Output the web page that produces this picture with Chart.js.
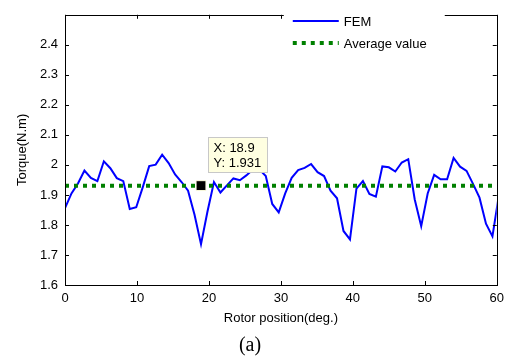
<!DOCTYPE html>
<html>
<head>
<meta charset="utf-8">
<script src="https://cdn.jsdelivr.net/npm/chart.js@4.4.1/dist/chart.umd.min.js"></script>
<style>
  html, body { margin: 0; padding: 0; background: #fff; }
  #wrap { width: 510px; height: 363px; }
</style>
</head>
<body>
<div id="wrap"><canvas id="torque-chart" width="510" height="363"></canvas></div>
<script>
// rotor position (deg.), sampled every 0.9 deg; last one lies past the axis and is clipped
const rotorPos = [
  0, 0.9, 1.8, 2.7, 3.6, 4.5, 5.4, 6.3, 7.2, 8.1,
  9, 9.9, 10.8, 11.7, 12.6, 13.5, 14.4, 15.3, 16.2, 17.1,
  18, 18.9, 19.8, 20.7, 21.6, 22.5, 23.4, 24.3, 25.2, 26.1,
  27, 27.9, 28.8, 29.7, 30.6, 31.5, 32.4, 33.3, 34.2, 35.1,
  36, 36.9, 37.8, 38.7, 39.6, 40.5, 41.4, 42.3, 43.2, 44.1,
  45, 45.9, 46.8, 47.7, 48.6, 49.5, 50.4, 51.3, 52.2, 53.1,
  54, 54.9, 55.8, 56.7, 57.6, 58.5, 59.4, 60.3
];
// FEM torque (N.m)
const femTorque = [
  1.856, 1.905, 1.938, 1.981, 1.957, 1.946, 2.012, 1.989, 1.956, 1.946,
  1.853, 1.859, 1.925, 1.996, 2.001, 2.034, 2.006, 1.968, 1.943, 1.914,
  1.834, 1.736, 1.845, 1.943, 1.908, 1.932, 1.955, 1.949, 1.965, 1.985,
  1.985, 1.963, 1.870, 1.842, 1.905, 1.957, 1.983, 1.990, 2.003, 1.976,
  1.963, 1.914, 1.889, 1.780, 1.752, 1.921, 1.946, 1.903, 1.894, 1.995,
  1.992, 1.978, 2.008, 2.019, 1.885, 1.796, 1.905, 1.967, 1.952, 1.952,
  2.023, 1.994, 1.980, 1.937, 1.891, 1.804, 1.762, 1.900
];
const avgRange = [0, 60];
const avgValue = 1.931;
const tipX = 18.9;
const xTicks = [0, 10, 20, 30, 40, 50, 60];
const yTicks = [1.6, 1.7, 1.8, 1.9, 2.0, 2.1, 2.2, 2.3, 2.4];
const seriesLabels = ['FEM', 'Average value'];

const FONT = 'Liberation Sans, Arial, sans-serif';

// matlab style frame: box, inward ticks, legend box and data tip
const framePlugin = {
  id: 'frame',
  afterDraw(chart) {
    const { ctx, chartArea: a, scales: { x, y } } = chart;
    ctx.save();
    ctx.strokeStyle = '#000';
    ctx.lineWidth = 1;
    ctx.beginPath();
    xTicks.forEach(v => {
      const px = Math.round(x.getPixelForValue(v)) + 0.5;
      ctx.moveTo(px, a.bottom); ctx.lineTo(px, a.bottom - 4);
      ctx.moveTo(px, a.top); ctx.lineTo(px, a.top + 4);
    });
    yTicks.concat([2.5]).forEach(v => {
      const py = Math.round(y.getPixelForValue(v)) + 0.5;
      ctx.moveTo(a.left, py); ctx.lineTo(a.left + 4, py);
      ctx.moveTo(a.right, py); ctx.lineTo(a.right - 4, py);
    });
    ctx.stroke();
    ctx.strokeRect(Math.round(a.left) + 0.5, Math.round(a.top) + 0.5,
      Math.round(a.right - a.left), Math.round(a.bottom - a.top));

    // legend
    const lx = a.right - 213;
    ctx.fillStyle = '#fff';
    ctx.fillRect(lx, 0, 161, 58);
    const ds = chart.data.datasets;
    const rows = [21, 43];
    ctx.font = '13px ' + FONT;
    ctx.textBaseline = 'middle';
    ctx.textAlign = 'left';
    rows.forEach((ry, i) => {
      const d = ds[i];
      ctx.strokeStyle = d.borderColor;
      ctx.lineWidth = d.borderWidth;
      ctx.setLineDash(d.borderDash || []);
      ctx.beginPath();
      ctx.moveTo(lx + 9, ry); ctx.lineTo(lx + 55, ry);
      ctx.stroke();
      ctx.setLineDash([]);
      ctx.fillStyle = '#000';
      ctx.fillText(d.label, lx + 60, ry + 1);
    });

    // data tip box
    const mx = x.getPixelForValue(tipX), my = y.getPixelForValue(avgValue);
    const bx = Math.round(mx + 7) + 0.5, by = Math.round(my - 49) + 0.5;
    ctx.fillStyle = '#ffffe1';
    ctx.strokeStyle = '#c8c8c8';
    ctx.lineWidth = 1;
    ctx.fillRect(bx, by, 59, 35);
    ctx.strokeRect(bx, by, 59, 35);
    ctx.fillStyle = '#000';
    ctx.fillText('X: ' + tipX, bx + 5, by + 11);
    ctx.fillText('Y: ' + avgValue.toFixed(3), bx + 5, by + 26);
    ctx.restore();
  }
};

new Chart(document.getElementById('torque-chart'), {
  type: 'line',
  data: {
    datasets: [
      {
        label: seriesLabels[0], order: 2,
        data: rotorPos.map((p, i) => ({ x: p, y: femTorque[i] })),
        borderColor: '#0000ff', borderWidth: 2, pointRadius: 0, tension: 0, fill: false
      },
      {
        label: seriesLabels[1], order: 1,
        data: avgRange.map(p => ({ x: p, y: avgValue })),
        borderColor: '#008000', borderWidth: 4, borderDash: [4, 5], pointRadius: 0, fill: false
      },
      {
        label: 'tip', order: 0,
        data: [{ x: tipX, y: avgValue }],
        showLine: false, pointStyle: 'rect', pointRadius: 7,
        backgroundColor: '#000', borderColor: '#ffffe1', borderWidth: 1
      }
    ]
  },
  options: {
    responsive: false,
    animation: false,
    layout: { padding: { top: 10, right: 10, left: 0, bottom: 0 } },
    plugins: {
      legend: { display: false },
      tooltip: { enabled: false },
      title: {
        display: true, position: 'bottom', text: '(a)', color: '#000',
        font: { family: 'Liberation Serif, Times New Roman, serif', size: 20, weight: 'normal' },
        padding: { top: 5, bottom: 5 }
      }
    },
    scales: {
      x: {
        type: 'linear', min: 0, max: 60,
        afterFit: s => { s.height = 44; },
        afterBuildTicks: s => { s.ticks = xTicks.map(v => ({ value: v })); },
        grid: { display: false, drawTicks: false },
        border: { display: false },
        ticks: { padding: 6, color: '#000', font: { family: FONT, size: 13 }, maxRotation: 0 },
        title: { display: true, text: 'Rotor position(deg.)', color: '#000', font: { family: FONT, size: 13 }, padding: { top: 0, bottom: 3 } }
      },
      y: {
        min: 1.6, max: 2.5,
        afterFit: s => { s.width = 65; },
        afterBuildTicks: s => { s.ticks = yTicks.map(v => ({ value: v })); },
        grid: { display: false, drawTicks: false },
        border: { display: false },
        ticks: { padding: 7, color: '#000', font: { family: FONT, size: 13 }, callback: v => String(+v.toFixed(1)) },
        title: { display: true, text: 'Torque(N.m)', color: '#000', font: { family: FONT, size: 13 }, padding: { top: 15, bottom: 0 } }
      }
    }
  },
  plugins: [framePlugin]
});
</script>
</body>
</html>
